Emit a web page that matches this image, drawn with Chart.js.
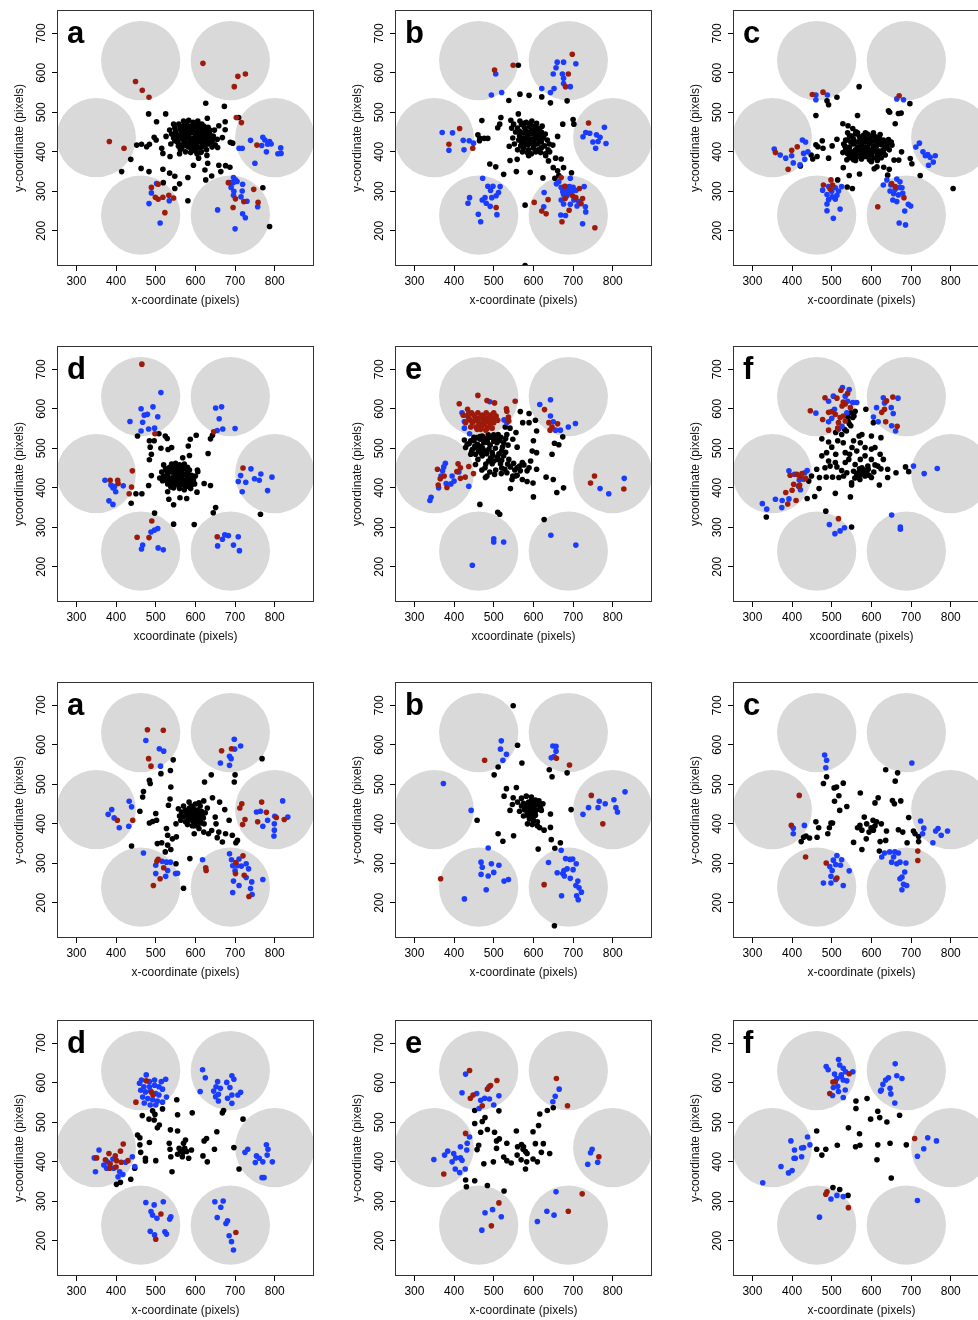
<!DOCTYPE html>
<html>
<head>
<meta charset="utf-8">
<script src="https://cdn.jsdelivr.net/npm/chart.js@4.4.1/dist/chart.umd.min.js"></script>
<style>
  html, body { margin: 0; padding: 0; background: #fff; width: 978px; height: 1320px; overflow: hidden; position: relative; }
  canvas { position: absolute; }
</style>
</head>
<body>
<script>
// ---- axes and arena layout (data units, pixels of the tracked video frame) ----
const xTickValues = [300, 400, 500, 600, 700, 800];
const yTickValues = [200, 300, 400, 500, 600, 700];
const xLimits = [251, 899];
const yLimits = [111, 759];
const circleX = [350, 462, 688, 800, 688, 462];
const circleY = [436, 631, 631, 436, 240, 240];
const circleRadius = 100;

// ---- panel a (first set) ----
const a1Red = [[619,624],[707,591],[726,597],[698,565],[449,578],[466,556],[483,538],[383,426],[420,409],[703,487],[716,474],[755,417],[683,322],[701,281],[722,274],[747,305],[758,272],[695,259],[489,310],[506,318],[499,285],[506,280],[518,285],[533,290],[545,283],[523,246]];
const a1Blue = [[739,429],[770,437],[775,430],[787,426],[782,419],[767,416],[791,420],[779,400],[815,410],[808,395],[816,396],[750,371],[710,409],[718,409],[696,335],[701,329],[695,322],[690,310],[697,300],[696,290],[719,318],[718,301],[715,286],[730,275],[656,253],[757,261],[719,243],[726,233],[700,205],[705,325],[688,322],[502,320],[489,296],[483,269],[534,276],[511,220]];
const a1Black = [[482,496],[525,496],[626,523],[673,515],[630,485],[659,466],[648,455],[675,456],[675,476],[709,487],[502,476],[484,419],[452,417],[464,419],[477,413],[437,381],[414,350],[463,358],[483,350],[518,356],[535,346],[548,338],[519,322],[560,319],[548,307],[581,335],[595,366],[581,276],[626,329],[641,339],[624,354],[659,366],[676,365],[687,361],[664,350],[631,371],[770,309],[787,211],[688,424],[668,436],[694,422],[526,439],[496,437],[501,430],[515,409],[536,388],[518,396],[608,384],[629,391],[615,400],[656,411],[635,422],[645,431],
  [560,440],[565,452],[570,430],[575,445],[580,460],[585,435],[590,448],[595,425],[600,440],[605,455],[610,430],[615,445],[620,420],[625,438],[630,450],[572,418],[582,422],[592,412],[602,418],[612,410],[622,428],[568,462],[578,470],[588,458],[598,466],[608,462],[618,458],[555,425],[550,450],[545,435],[562,405],[575,400],[588,398],[600,402],[613,398],[628,405],[640,425],[636,445],[642,412],[548,460],[558,470],[594,475],[606,478],[583,480],[570,478],[616,470],[632,462],[645,440],[540,445],[553,438],[587,428],[597,435],[607,442],[617,435],[577,435],[567,447],[603,425],[593,452],[583,445],[611,450],[624,412],[560,395],[650,418],[538,420],[545,470],[655,432],[535,455],
  [558,432],[568,438],[578,452],[588,465],[598,448],[608,435],[618,448],[628,440],[563,418],[573,425],[583,412],[593,420],[603,410],[613,425],[623,445],[633,420],[576,458],[586,452],[596,458],[606,468],[616,455],[626,458],[566,410],[579,415],[591,405],[604,395],[617,415],[629,430],[638,436],[552,445],[561,458],[571,468],[581,440],[591,432],[601,432],[611,440],[621,465],[636,455],[548,428],[557,415]];

// ---- panel b (first set) ----
const b1Red = [[698,647],[688,597],[681,565],[502,607],[549,619],[739,473],[414,459],[387,419],[447,409],[670,335],[679,313],[716,307],[699,289],[707,284],[724,282],[720,269],[680,282],[690,252],[672,223],[755,208],[637,279],[602,272],[621,250],[632,243],[506,259]];
const b1Blue = [[660,627],[676,627],[707,623],[657,613],[650,597],[673,597],[676,586],[693,565],[652,560],[643,550],[621,560],[676,573],[505,597],[494,544],[520,550],[370,449],[396,448],[423,429],[438,428],[449,422],[425,405],[387,404],[779,462],[732,449],[725,438],[742,447],[759,443],[768,437],[750,425],[763,426],[783,421],[757,409],[472,333],[485,313],[498,313],[516,312],[492,302],[512,297],[478,284],[495,284],[506,289],[471,278],[491,262],[439,284],[435,270],[461,242],[508,241],[467,223],[481,270],[658,319],[670,310],[681,312],[691,312],[700,310],[728,312],[674,299],[687,303],[695,293],[707,302],[684,288],[702,278],[714,274],[731,261],[710,263],[627,297],[670,278],[693,267],[626,261],[669,240],[681,239],[724,218],[732,248],[693,333],[664,324],[676,268],[680,305],[688,296],[698,302],[676,292]];
const b1Black = [[562,619],[566,546],[589,543],[621,539],[643,524],[685,529],[538,530],[562,496],[518,487],[470,479],[515,470],[510,461],[543,480],[674,470],[700,482],[702,470],[460,443],[465,434],[476,434],[485,434],[464,428],[539,414],[559,381],[541,378],[490,369],[505,362],[525,343],[557,350],[592,348],[624,334],[631,390],[638,377],[656,384],[670,382],[650,360],[661,352],[676,360],[696,347],[654,333],[664,340],[641,400],[649,417],[661,439],[579,265],[579,112],
  [560,460],[570,470],[580,455],[590,465],[600,455],[610,460],[620,450],[565,440],[575,448],[585,440],[595,445],[605,438],[615,442],[625,435],[570,425],[580,430],[590,420],[600,428],[610,420],[620,425],[575,410],[588,405],[600,410],[612,405],[628,415],[555,450],[548,435],[552,420],[630,445],[635,430],[582,475],[596,478],[608,472],[566,478],[572,400],[595,395],[618,398],[640,420],[545,460],[560,405],[585,418],[597,432],[607,448],[577,462],[615,430],[622,465],[550,470],[637,405],[588,390],[630,395],
  [565,452],[575,435],[585,450],[595,455],[605,450],[615,455],[578,420],[590,432],[602,418],[612,432],[622,440],[568,415],[584,398],[606,400],[620,410],[592,470],[603,465],[576,472],[563,430]];

// ---- panel c (first set) ----
const c1Red = [[451,545],[478,551],[670,542],[358,398],[399,404],[413,413],[390,356],[479,316],[498,329],[502,316],[496,306],[651,320],[660,312],[682,284],[616,261]];
const c1Blue = [[460,532],[489,544],[460,544],[664,534],[681,532],[355,407],[370,392],[384,384],[399,390],[403,372],[420,367],[426,430],[434,425],[429,396],[432,381],[440,400],[712,412],[721,422],[730,400],[742,393],[748,386],[761,390],[756,374],[744,366],[736,390],[477,303],[492,312],[509,309],[525,312],[488,292],[501,286],[513,290],[492,279],[488,268],[509,280],[521,255],[488,251],[504,232],[630,316],[639,329],[664,331],[672,324],[647,301],[656,294],[668,291],[679,295],[654,278],[664,274],[693,267],[699,263],[684,250],[670,220],[686,215],[649,316],[677,309],[500,300],[517,301],[660,305],[672,310]];
const c1Black = [[569,565],[513,538],[488,529],[492,519],[460,492],[565,492],[643,504],[646,500],[668,497],[675,498],[697,522],[660,471],[528,471],[541,466],[553,459],[561,451],[513,432],[476,428],[460,418],[465,413],[478,409],[448,392],[452,382],[463,388],[421,364],[492,384],[501,415],[529,360],[544,340],[570,344],[515,329],[539,311],[552,307],[607,357],[614,362],[631,361],[645,356],[641,341],[657,379],[669,379],[676,400],[698,383],[702,370],[723,340],[806,307],[652,417],[643,431],
  [530,420],[540,430],[550,440],[560,445],[570,438],[580,442],[590,445],[600,440],[610,438],[620,435],[630,430],[535,405],[545,412],[555,420],[565,425],[575,418],[585,425],[595,420],[605,428],[615,420],[625,418],[635,412],[540,395],[550,400],[560,405],[570,400],[580,405],[590,400],[600,405],[610,400],[620,402],[630,398],[545,385],[555,390],[565,388],[575,392],[585,388],[595,392],[605,385],[615,390],[625,385],[640,420],[645,405],[528,398],[538,380],[650,425],[560,378],[600,375],[585,412],[572,430],[612,412],[548,425],[622,444],[592,432],[540,448],
  [535,430],[545,440],[555,432],[565,412],[575,430],[585,435],[595,432],[605,415],[615,432],[625,428],[635,425],[550,390],[560,395],[570,410],[580,395],[590,410],[600,395],[610,410],[620,392],[630,405],[545,400],[605,448],[585,448],[565,448],[640,410],[533,415],[555,380],[575,382],[595,380],[615,378],[635,392]];

// ---- panel d (first set) ----
const d1Red = [[465,713],[498,537],[441,443],[385,419],[404,419],[405,411],[439,402],[433,385],[490,316],[453,275],[483,274],[655,276],[646,542],[720,450]];
const d1Blue = [[513,641],[493,605],[463,600],[471,584],[479,586],[505,580],[435,568],[467,566],[482,549],[463,544],[497,551],[651,602],[666,605],[660,575],[669,549],[655,545],[700,550],[372,419],[387,407],[392,400],[399,390],[396,403],[418,405],[382,367],[392,358],[740,448],[765,435],[714,431],[749,423],[761,419],[793,427],[708,416],[727,414],[782,393],[718,390],[505,297],[497,293],[488,288],[467,255],[464,245],[506,248],[519,243],[674,281],[683,279],[668,270],[708,276],[656,253],[696,255],[711,241]];
const d1Black = [[454,531],[484,519],[496,519],[486,503],[489,485],[484,471],[513,500],[531,497],[540,502],[524,531],[529,525],[508,537],[602,533],[587,523],[582,506],[568,476],[585,482],[632,487],[638,524],[643,533],[489,431],[482,406],[450,385],[465,385],[438,361],[530,390],[533,371],[545,357],[561,375],[578,373],[604,389],[622,411],[638,406],[606,441],[651,350],[645,337],[764,333],[497,336],[545,308],[597,307],
  [515,440],[525,448],[535,452],[545,455],[555,450],[565,452],[575,448],[585,445],[520,430],[530,435],[540,440],[550,438],[560,442],[570,435],[580,438],[590,432],[525,420],[535,425],[545,428],[555,422],[565,428],[575,420],[585,425],[595,420],[530,410],[540,412],[550,408],[560,415],[570,410],[580,412],[590,408],[545,400],[560,398],[575,402],[588,398],[510,425],[600,430],[605,445],[520,458],[550,462],[572,460],[598,410],[538,402],[565,440],[553,430],
  [528,442],[538,448],[548,446],[558,432],[568,418],[578,430],[588,418],[530,425],[542,418],[552,415],[562,405],[572,395],[582,404],[594,428],[540,460],[560,458],[580,452],[517,418],[535,415],[555,443]];

// ---- panel e (first set) ----
const e1Red = [[460,634],[413,613],[483,621],[502,615],[554,619],[532,600],[533,594],[537,579],[538,569],[434,599],[423,584],[437,576],[450,584],[460,590],[471,584],[481,590],[492,584],[500,590],[446,565],[460,569],[473,573],[487,571],[500,565],[429,565],[455,554],[467,548],[484,551],[496,551],[476,561],[463,561],[442,554],[492,563],
  [444,590],[454,578],[466,578],[478,578],[488,578],[498,575],[440,572],[452,570],[468,562],[480,566],[506,582],[470,555],[480,546],[490,556],[458,548],[436,586],[510,571],
  [628,598],[639,565],[642,546],[661,562],[647,554],[358,447],[410,461],[407,441],[416,451],[416,424],[428,427],[382,401],[360,407],[365,423],[437,454],[449,436],[375,430],[754,430],[744,412],[828,397]];
const e1Blue = [[420,590],[426,568],[426,551],[490,618],[507,573],[526,572],[533,565],[439,537],[434,582],[616,611],[643,623],[643,582],[650,567],[656,546],[668,546],[688,554],[706,563],[378,462],[374,453],[371,443],[367,430],[395,430],[412,440],[380,411],[392,410],[361,400],[437,404],[342,376],[339,368],[400,417],[829,424],[768,398],[790,385],[500,271],[500,263],[525,263],[446,204],[644,280],[707,255]];
const e1Black = [[567,593],[573,565],[589,588],[589,565],[605,571],[608,544],[600,519],[597,493],[608,489],[647,485],[653,513],[664,509],[674,529],[632,427],[650,421],[584,416],[599,412],[676,400],[659,388],[600,377],[627,320],[465,358],[510,338],[515,333],[542,398],[559,432],[576,458],[589,451],[559,503],[548,523],[525,514],[529,554],[541,551],[556,540],[533,535],[528,447],[519,436],[502,434],[483,430],[478,451],[496,461],[492,476],[509,472],[538,472],[559,451],[572,464],[567,443],[542,453],[454,459],[460,472],[442,485],[429,502],[426,521],[442,519],[457,527],[471,531],[486,534],[500,534],[511,535],[459,510],[475,514],[491,508],[508,514],[522,503],[446,497],[462,493],[479,493],[496,489],[513,486],[525,481],[471,481],[487,468],[517,461],[533,438],[555,430],[546,421],[584,443],[572,421],[593,468],[608,447],[479,426],[450,519],[433,510],[484,523],[466,523],
  [450,528],[465,530],[478,525],[494,528],[505,525],[518,528],[438,512],[452,505],[468,505],[484,515],[500,518],[515,520],[444,492],[458,500],[472,500],[488,498],[504,500],[520,494],[454,485],[468,488],[482,486],[498,482],[510,478],[530,490],[536,508],[530,525],[520,470],[500,468],[480,460],[550,462],[535,460],[553,445],[565,455],[548,430],[520,450],[505,445],[490,440],[470,445]];

// ---- panel f (first set) ----
const f1Red = [[483,628],[446,595],[477,573],[492,591],[500,593],[513,627],[523,647],[540,639],[529,617],[534,612],[509,586],[521,578],[529,582],[517,565],[534,569],[492,546],[515,551],[547,603],[526,607],[654,630],[638,620],[633,599],[626,591],[636,567],[665,556],[389,359],[384,388],[400,394],[404,409],[419,407],[395,432],[412,434],[420,428],[425,436],[434,424],[418,404],[410,368],[517,322]];
const f1Blue = [[527,654],[544,649],[504,632],[492,619],[534,632],[540,619],[563,616],[460,589],[492,567],[500,576],[507,599],[517,548],[538,590],[526,556],[553,616],[630,628],[667,627],[650,603],[613,603],[605,579],[655,588],[651,557],[661,544],[617,567],[633,615],[392,443],[438,444],[432,438],[406,434],[418,420],[421,395],[392,372],[375,368],[358,371],[374,350],[336,346],[325,360],[429,422],[416,404],[706,455],[733,436],[766,449],[494,307],[508,284],[521,291],[532,299],[651,331],[673,301],[673,295]];
const f1Black = [[559,594],[586,599],[605,565],[541,569],[548,557],[537,544],[525,535],[510,540],[475,524],[492,516],[515,519],[529,514],[555,519],[576,535],[600,531],[624,527],[572,514],[584,502],[609,502],[563,493],[534,489],[510,485],[475,481],[492,468],[509,464],[543,472],[584,481],[600,472],[630,472],[609,458],[559,459],[576,451],[592,447],[624,448],[641,447],[662,438],[686,453],[694,441],[462,447],[483,451],[496,455],[513,453],[525,444],[538,438],[555,442],[567,438],[584,430],[600,426],[641,426],[620,407],[550,407],[550,413],[442,417],[449,430],[469,426],[486,427],[502,427],[518,426],[571,421],[468,398],[457,378],[438,373],[509,386],[547,377],[485,341],[335,326],[550,301],[534,464],[545,485],[572,472],[567,426],[580,438],[591,455],[600,498],[551,502],[569,531],[553,578],[544,562],[532,548],[500,503],[487,489],[622,485],[616,455],[588,438],[576,434],[563,434],
  [548,590],[556,582],[540,580],[570,448],[582,445],[594,432],[606,440],[558,425],[530,430]];

// ---- panel a (second set) ----
const a2Red = [[479,638],[519,637],[482,565],[488,546],[403,409],[442,409],[666,585],[691,590],[717,451],[712,440],[767,455],[779,429],[804,416],[824,411],[725,411],[719,398],[757,405],[506,310],[503,305],[520,289],[511,261],[494,244],[626,289],[627,282],[702,302],[720,319],[701,274],[723,270],[735,216]];
const a2Blue = [[475,611],[509,590],[520,584],[512,546],[698,614],[714,597],[699,589],[686,571],[690,565],[663,554],[686,548],[433,457],[439,443],[389,436],[380,424],[395,415],[408,390],[432,394],[754,430],[764,432],[820,458],[833,417],[800,419],[782,409],[770,394],[799,400],[799,384],[798,369],[469,326],[500,295],[516,305],[527,303],[537,303],[530,282],[550,274],[555,275],[500,274],[525,267],[618,309],[686,324],[691,309],[710,311],[694,294],[716,293],[728,299],[734,286],[696,255],[710,244],[742,253],[770,259],[739,236],[743,221],[694,226],[700,281],[728,264],[706,294]];
const a2Black = [[544,562],[537,535],[513,527],[484,510],[486,502],[469,482],[467,468],[538,493],[536,463],[532,447],[460,432],[500,426],[484,402],[492,406],[502,409],[623,506],[640,524],[698,506],[700,524],[768,565],[643,466],[661,455],[674,436],[685,409],[650,417],[652,400],[641,383],[659,379],[676,375],[693,371],[706,358],[702,352],[668,354],[655,365],[633,375],[439,344],[504,350],[515,352],[527,388],[530,371],[542,362],[552,367],[530,346],[538,335],[524,329],[551,299],[586,312],[570,237],[597,375],[609,388],[621,379],[584,455],[609,453],[621,458],[557,438],[563,409],[551,400],
  [565,430],[575,435],[585,440],[595,438],[605,435],[615,432],[625,428],[570,418],[580,422],[590,425],[600,420],[610,418],[620,415],[585,410],[595,405],[605,408],[615,402],[575,405],[590,445],[600,450],[612,445],[560,420],[630,440],[622,400],[598,395],[580,398],[570,445],
  [578,428],[588,432],[598,428],[608,425],[618,425],[582,415],[592,415],[602,412],[612,410],[592,395],[605,398]];

// ---- panel b (second set) ----
const b2Red = [[477,561],[658,566],[691,549],[746,472],[775,400],[366,261],[627,246]];
const b2Blue = [[519,610],[517,589],[532,576],[523,561],[649,597],[657,596],[657,584],[645,567],[652,570],[373,502],[443,434],[831,481],[803,461],[781,451],[766,457],[763,441],[739,441],[725,424],[808,441],[812,430],[486,339],[468,303],[471,290],[494,299],[513,295],[500,277],[468,272],[486,268],[526,255],[537,259],[481,233],[426,210],[670,333],[638,302],[681,312],[692,310],[699,311],[708,299],[700,284],[685,286],[674,274],[660,276],[678,268],[693,262],[712,255],[707,244],[715,238],[721,227],[709,218],[713,208],[671,218],[677,282]];
const b2Black = [[549,699],[560,599],[571,554],[511,544],[501,524],[640,537],[647,519],[685,529],[532,489],[557,492],[526,470],[549,466],[547,449],[541,434],[458,409],[511,375],[523,356],[550,370],[695,436],[612,336],[654,338],[668,352],[645,360],[643,391],[627,384],[616,390],[643,425],[624,451],[620,434],[614,458],[653,142],
  [570,465],[582,470],[595,468],[605,460],[575,452],[588,455],[600,450],[612,448],[580,440],[590,442],[598,438],[608,435],[585,428],[595,425],[605,422],[590,412],[600,408],[610,405],[575,420],[565,432],[618,440],[585,400],[597,398],[610,395],[570,445],[560,455],
  [578,435],[590,452],[602,445],[588,420],[600,418],[580,448],[593,435],[604,430],[596,460]];

// ---- panel c (second set) ----
const c2Red = [[418,472],[398,396],[434,316],[486,301],[513,263],[717,331],[717,307]];
const c2Blue = [[482,574],[487,561],[485,542],[403,389],[403,375],[431,396],[513,320],[525,309],[504,308],[495,292],[501,282],[510,297],[498,267],[479,250],[498,250],[510,259],[529,244],[544,281],[522,295],[702,554],[724,407],[732,389],[729,375],[755,352],[762,382],[768,388],[776,371],[792,382],[633,326],[646,329],[656,316],[668,326],[651,303],[664,299],[672,303],[687,301],[684,278],[677,265],[672,261],[681,247],[689,244],[677,233],[626,316],[659,329]];
const c2Black = [[636,537],[666,529],[660,508],[479,502],[487,519],[506,491],[512,493],[518,471],[507,457],[529,503],[538,444],[520,434],[572,478],[609,453],[617,466],[653,459],[658,451],[674,458],[694,416],[460,405],[467,390],[435,369],[429,366],[444,364],[423,355],[463,366],[494,390],[490,375],[498,402],[502,402],[555,353],[576,335],[587,362],[620,331],[622,355],[636,358],[638,382],[668,385],[679,379],[690,352],[706,382],[710,375],[719,368],[719,355],[565,390],[582,417],[588,400],[599,390],[594,379],[604,409],[609,395],[625,400],[571,396],[576,384],[605,384],[613,405]];

// ---- panel d (second set) ----
const d2Red = [[476,605],[489,576],[493,569],[450,551],[418,445],[411,427],[382,421],[398,415],[373,405],[351,410],[385,395],[401,403],[413,399],[430,403],[384,384],[400,387],[513,268],[500,204],[702,221]];
const d2Blue = [[476,620],[464,607],[484,603],[497,607],[514,603],[525,609],[470,590],[484,590],[497,594],[508,590],[517,584],[462,581],[474,577],[487,579],[500,573],[508,569],[527,564],[467,564],[480,560],[492,557],[504,554],[517,551],[471,549],[486,544],[500,544],[459,599],
  [618,633],[625,613],[612,578],[656,603],[692,618],[697,609],[679,601],[652,590],[663,586],[646,579],[658,571],[687,588],[692,569],[714,576],[707,569],[658,554],[681,561],[692,548],[651,565],
  [357,430],[345,410],[369,392],[348,375],[378,400],[392,407],[394,384],[409,375],[417,368],[405,362],[424,399],[441,413],[447,388],[376,384],
  [779,443],[783,432],[732,432],[725,424],[754,415],[761,409],[751,398],[770,400],[794,400],[768,360],[773,360],[781,417],
  [475,297],[496,291],[492,265],[503,257],[519,299],[538,261],[535,255],[486,224],[497,215],[523,223],[527,217],[488,274],
  [649,299],[670,301],[664,285],[655,259],[681,251],[677,244],[685,213],[691,198],[696,177]];
const d2Black = [[553,557],[555,519],[592,524],[720,508],[671,530],[668,524],[492,529],[498,520],[517,534],[466,517],[483,508],[496,506],[509,493],[504,486],[537,481],[555,478],[654,476],[628,459],[622,453],[648,432],[697,436],[454,468],[460,461],[460,443],[484,449],[462,424],[474,409],[500,403],[474,402],[534,447],[536,432],[538,413],[541,375],[575,455],[570,447],[573,434],[578,426],[563,426],[555,419],[567,413],[583,409],[590,430],[619,415],[630,400],[710,382],[447,384],[437,356],[411,348],[401,343],[559,434],[569,424]];

// ---- panel e (second set) ----
const e2Red = [[439,631],[508,606],[492,593],[484,584],[448,569],[441,561],[471,542],[429,472],[374,369],[658,611],[686,542],[765,413],[513,296],[494,238],[723,319],[688,275]];
const e2Blue = [[429,622],[420,575],[457,573],[488,590],[467,556],[477,561],[489,559],[500,544],[513,567],[463,535],[665,584],[655,566],[649,552],[439,463],[433,447],[416,438],[432,430],[384,427],[376,417],[399,421],[404,410],[416,410],[395,400],[420,404],[349,406],[403,382],[414,373],[428,382],[748,432],[744,423],[737,394],[762,399],[478,271],[497,279],[519,261],[470,227],[657,324],[634,275],[652,265],[610,249]];
const e2Black = [[452,530],[478,512],[471,502],[452,497],[484,482],[467,475],[502,475],[513,529],[557,478],[599,476],[613,492],[616,521],[635,530],[650,537],[507,453],[514,458],[533,447],[507,434],[499,400],[475,395],[462,442],[458,431],[525,412],[533,403],[544,397],[560,438],[570,444],[575,438],[580,426],[584,421],[559,417],[569,405],[583,400],[580,382],[599,407],[610,400],[605,446],[625,446],[620,424],[641,421],[429,354],[431,337],[452,352],[484,340],[526,326],[574,432]];

// ---- panel f (second set) ----
const f2Red = [[544,623],[509,603],[503,602],[495,573],[709,459],[488,324],[485,318],[542,284]];
const f2Blue = [[517,659],[520,645],[486,641],[491,633],[507,622],[529,637],[535,628],[553,628],[524,620],[529,607],[538,605],[515,591],[534,582],[504,588],[517,578],[502,568],[529,563],[524,616],[513,611],[660,648],[664,618],[677,611],[643,613],[636,607],[629,596],[625,582],[647,586],[649,572],[659,549],[623,579],[742,461],[764,453],[732,433],[716,414],[439,463],[397,453],[445,443],[429,436],[424,435],[406,430],[424,413],[408,409],[405,409],[372,388],[400,378],[391,372],[326,347],[513,315],[498,306],[529,312],[469,260],[716,302]];
const f2Black = [[561,554],[589,560],[561,535],[616,528],[598,508],[621,512],[639,501],[671,518],[542,486],[570,471],[462,478],[462,432],[485,432],[475,417],[514,442],[560,438],[571,442],[616,443],[647,447],[688,443],[614,405],[650,359],[503,335],[520,330],[541,315]];

const panels = [
  { letter: 'a', red: a1Red, blue: a1Blue, black: a1Black, xTitle: 'x-coordinate (pixels)', yTitle: 'y-coordinate (pixels)' },
  { letter: 'b', red: b1Red, blue: b1Blue, black: b1Black, xTitle: 'x-coordinate (pixels)', yTitle: 'y-coordinate (pixels)' },
  { letter: 'c', red: c1Red, blue: c1Blue, black: c1Black, xTitle: 'x-coordinate (pixels)', yTitle: 'y-coordinate (pixels)' },
  { letter: 'd', red: d1Red, blue: d1Blue, black: d1Black, xTitle: 'xcoordinate (pixels)', yTitle: 'ycoordinate (pixels)' },
  { letter: 'e', red: e1Red, blue: e1Blue, black: e1Black, xTitle: 'xcoordinate (pixels)', yTitle: 'ycoordinate (pixels)' },
  { letter: 'f', red: f1Red, blue: f1Blue, black: f1Black, xTitle: 'xcoordinate (pixels)', yTitle: 'ycoordinate (pixels)' },
  { letter: 'a', red: a2Red, blue: a2Blue, black: a2Black, xTitle: 'x-coordinate (pixels)', yTitle: 'y-coordinate (pixels)' },
  { letter: 'b', red: b2Red, blue: b2Blue, black: b2Black, xTitle: 'x-coordinate (pixels)', yTitle: 'y-coordinate (pixels)' },
  { letter: 'c', red: c2Red, blue: c2Blue, black: c2Black, xTitle: 'x-coordinate (pixels)', yTitle: 'y-coordinate (pixels)' },
  { letter: 'd', red: d2Red, blue: d2Blue, black: d2Black, xTitle: 'x-coordinate (pixels)', yTitle: 'y-coordinate (pixels)' },
  { letter: 'e', red: e2Red, blue: e2Blue, black: e2Black, xTitle: 'x-coordinate (pixels)', yTitle: 'y-coordinate (pixels)' },
  { letter: 'f', red: f2Red, blue: f2Blue, black: f2Black, xTitle: 'x-coordinate (pixels)', yTitle: 'y-coordinate (pixels)' }
];

// ---- styling ----
const FONT = '"Liberation Sans", Arial, Helvetica, sans-serif';
const COLOR_RED = '#9e1a0b';
const COLOR_BLUE = '#1a3cff';
const COLOR_BLACK = '#000000';
const ARENA_GREY = '#d9d9d9';
const CANVAS_W = 330, CANVAS_H = 310;
const colLeft = [0, 338, 676];
const rowTop = [0, 336, 672, 1010];

// grey arenas under the points, frame box and panel letter over them
const arenaPlugin = {
  id: 'arena',
  beforeDatasetsDraw(chart) {
    const { ctx, chartArea: area } = chart;
    const xs = chart.scales.x, ys = chart.scales.y;
    ctx.save();
    ctx.beginPath();
    ctx.rect(area.left, area.top, area.right - area.left, area.bottom - area.top);
    ctx.clip();
    ctx.fillStyle = ARENA_GREY;
    circleX.forEach((cx, i) => {
      const px = xs.getPixelForValue(cx);
      const py = ys.getPixelForValue(circleY[i]);
      const r = xs.getPixelForValue(cx + circleRadius) - px;
      ctx.beginPath();
      ctx.arc(px, py, r, 0, Math.PI * 2);
      ctx.fill();
    });
    ctx.restore();
  },
  afterDraw(chart, args, opts) {
    const { ctx, chartArea: area } = chart;
    ctx.save();
    ctx.strokeStyle = '#333';
    ctx.lineWidth = 1;
    ctx.strokeRect(Math.round(area.left) + 0.5, Math.round(area.top) + 0.5,
                   Math.round(area.right - area.left) - 1, Math.round(area.bottom - area.top) - 1);
    ctx.fillStyle = '#000';
    ctx.font = 'bold 31px ' + FONT;
    ctx.textBaseline = 'alphabetic';
    ctx.textAlign = 'left';
    ctx.fillText(opts.letter, area.left + 10, area.top + 33);
    ctx.restore();
  }
};

const toXY = pts => pts.map(p => ({ x: p[0], y: p[1] }));

panels.forEach((p, i) => {
  const canvas = document.createElement('canvas');
  canvas.width = CANVAS_W;
  canvas.height = CANVAS_H;
  canvas.style.width = CANVAS_W + 'px';
  canvas.style.height = CANVAS_H + 'px';
  canvas.style.left = colLeft[i % 3] + 'px';
  canvas.style.top = rowTop[Math.floor(i / 3)] + 'px';
  document.body.appendChild(canvas);

  const pointStyle = color => ({ backgroundColor: color, borderColor: color, borderWidth: 0, pointRadius: 2.8, pointHoverRadius: 2.8 });

  new Chart(canvas, {
    type: 'scatter',
    data: {
      datasets: [
        Object.assign({ label: 'red', data: toXY(p.red) }, pointStyle(COLOR_RED)),
        Object.assign({ label: 'blue', data: toXY(p.blue) }, pointStyle(COLOR_BLUE)),
        Object.assign({ label: 'black', data: toXY(p.black) }, pointStyle(COLOR_BLACK))
      ]
    },
    options: {
      responsive: false,
      animation: false,
      devicePixelRatio: 1,
      events: [],
      layout: { padding: { left: 0, top: 10, right: 16, bottom: 0 } },
      plugins: {
        legend: { display: false },
        tooltip: { enabled: false },
        arena: { letter: p.letter }
      },
      scales: {
        x: {
          type: 'linear',
          position: 'bottom',
          min: xLimits[0],
          max: xLimits[1],
          afterBuildTicks: s => { s.ticks = xTickValues.map(v => ({ value: v })); },
          afterFit: s => { s.height = 44; },
          border: { display: false },
          grid: { display: true, drawOnChartArea: false, drawTicks: true, tickLength: 5, tickColor: '#000', tickWidth: 1 },
          ticks: { autoSkip: false, maxRotation: 0, minRotation: 0, padding: 3, color: '#000', font: { family: FONT, size: 12 } },
          title: { display: true, text: p.xTitle, color: '#111', font: { family: FONT, size: 12 }, padding: { top: 0, bottom: 2 } }
        },
        y: {
          type: 'linear',
          position: 'left',
          min: yLimits[0],
          max: yLimits[1],
          afterBuildTicks: s => { s.ticks = yTickValues.map(v => ({ value: v })); },
          afterFit: s => { s.width = 57; },
          border: { display: false },
          grid: { display: true, drawOnChartArea: false, drawTicks: true, tickLength: 5, tickColor: '#000', tickWidth: 1 },
          ticks: { autoSkip: false, minRotation: 90, maxRotation: 90, crossAlign: 'center', padding: 0, color: '#000', font: { family: FONT, size: 12 } },
          title: { display: true, text: p.yTitle, color: '#111', font: { family: FONT, size: 12 }, padding: { top: 12, bottom: 0 } }
        }
      }
    },
    plugins: [arenaPlugin]
  });
});
</script>
</body>
</html>
